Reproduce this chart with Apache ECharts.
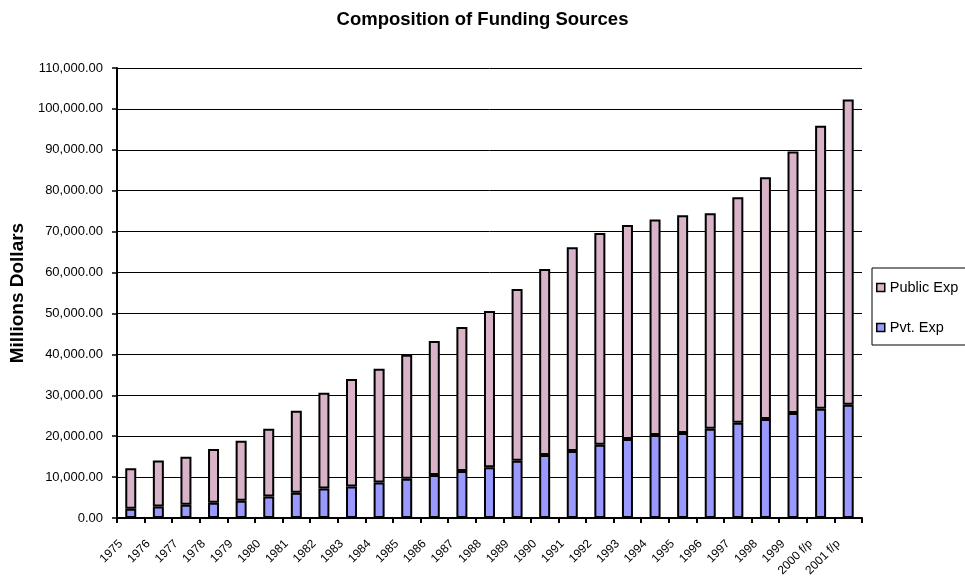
<!DOCTYPE html>
<html>
<head>
<meta charset="utf-8">
<script src="https://cdn.jsdelivr.net/npm/echarts@6/dist/echarts.min.js"></script>
<style>
html,body{margin:0;padding:0;background:#fff;}
#chart{width:965px;height:579px;}
</style>
</head>
<body>
<div id="chart"></div>
<script>
var years = ['1975','1976','1977','1978','1979','1980','1981','1982','1983','1984','1985','1986','1987','1988','1989','1990','1991','1992','1993','1994','1995','1996','1997','1998','1999','2000 f/p','2001 f/p'];
var pvtExp = [2300,2850,3250,3750,4250,5250,6200,7200,7700,8700,9600,10500,11500,12400,14000,15400,16400,17900,19300,20300,20800,21800,23300,24200,25700,26700,27700];
var publicExp = [9900,11250,11750,13150,14650,16550,20000,23400,26300,27800,30300,32800,35200,38200,42000,45500,49800,51800,52300,52700,53200,52700,55100,59100,63900,69200,74600];
var yMin = 0, yMax = 110000, yStep = 10000;

var font = 'Liberation Sans, Arial, sans-serif';
var chart = echarts.init(document.getElementById('chart'), null, {renderer:'canvas'});

function fmt(v){
  var s = Math.round(v).toString().replace(/\B(?=(\d{3})+(?!\d))/g, ',');
  return s + '.00';
}

chart.setOption({
  animation:false,
  backgroundColor:'#ffffff',
  title:{
    text:'Composition of Funding Sources',
    left:'center', top:5,
    textStyle:{fontFamily:font, fontSize:18.5, fontWeight:'bold', color:'#000'}
  },
  legend:{
    orient:'vertical',
    left:872, top:268,
    width:110,
    data:['Public Exp','Pvt. Exp'],
    backgroundColor:'#fff',
    borderColor:'#000', borderWidth:1,
    padding:[12,30,10,4],
    itemGap:25,
    itemWidth:8, itemHeight:8,
    icon:'rect',
    itemStyle:{borderColor:'#000', borderWidth:1.5},
    textStyle:{fontFamily:font, fontSize:14.5, color:'#000'}
  },
  grid:{left:114, right:103, top:68, bottom:60, containLabel:false},
  xAxis:{
    type:'category',
    data:years,
    boundaryGap:true,
    axisLine:{lineStyle:{color:'#000', width:2}},
    axisTick:{show:true, alignWithLabel:false, length:5, lineStyle:{color:'#000', width:2}},
    axisLabel:{rotate:45, interval:0, fontFamily:font, fontSize:12, color:'#000', margin:14, padding:[0,14,0,0]}
  },
  yAxis:{
    type:'value',
    min:yMin, max:yMax, interval:yStep,
    name:'Millions Dollars',
    nameLocation:'middle',
    nameGap:89,
    nameRotate:90,
    nameTextStyle:{fontFamily:font, fontSize:19, fontWeight:'bold', color:'#000'},
    axisLine:{show:true, lineStyle:{color:'#000', width:2}},
    axisTick:{show:true, length:5, lineStyle:{color:'#000', width:1.5}},
    axisLabel:{fontFamily:font, fontSize:13, color:'#000', margin:14, formatter:fmt},
    splitLine:{show:true, lineStyle:{color:'#000', width:1}}
  },
  series:[
    {
      name:'Pvt. Exp', type:'bar', stack:'total', data:pvtExp,
      barWidth:11,
      itemStyle:{color:'#9999FF', borderColor:'#000', borderWidth:2}
    },
    {
      name:'Public Exp', type:'bar', stack:'total', data:publicExp,
      barWidth:11,
      itemStyle:{color:'#D9B3C8', borderColor:'#000', borderWidth:2}
    }
  ]
});
</script>
</body>
</html>
